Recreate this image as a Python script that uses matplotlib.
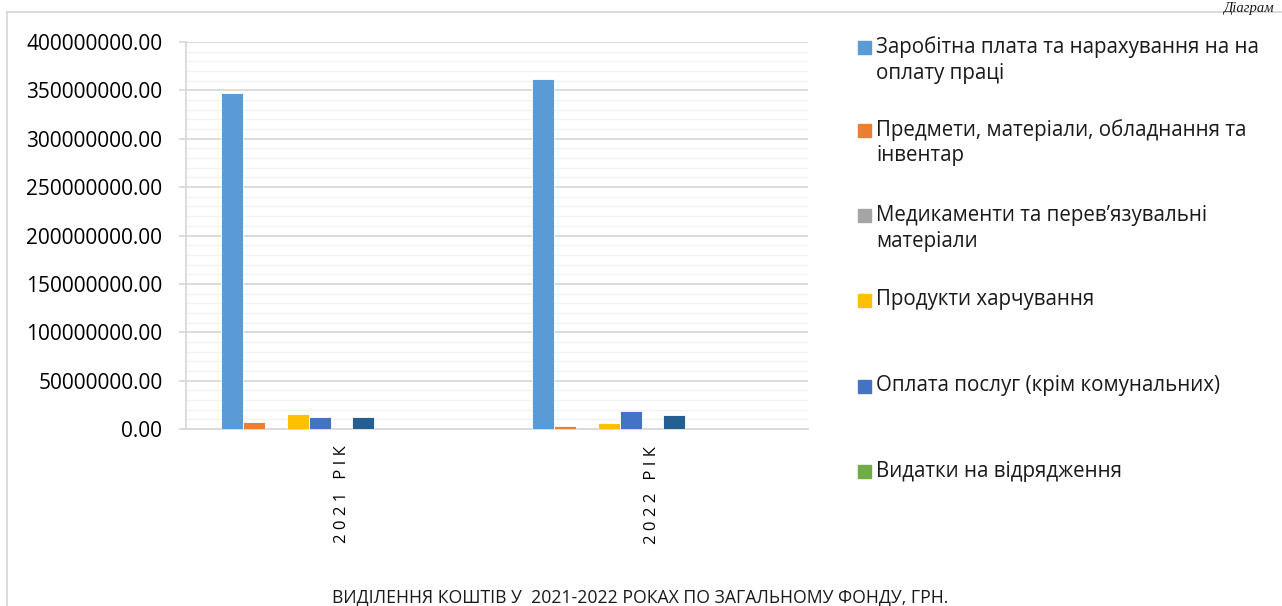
import matplotlib
matplotlib.use('Agg')
import matplotlib.pyplot as plt
from matplotlib.patches import Rectangle
from matplotlib.lines import Line2D
import numpy as np

plt.rcParams['font.family'] = ['Open Sans', 'DejaVu Sans']

# дані діаграми
years = ['2 0 2 1   Р І К', '2 0 2 2   Р І К']
salary = [347.4e6, 361.7e6]
materials = [7.5e6, 2.9e6]
medicine = [0, 0]
food = [15.7e6, 6.7e6]
services = [12.2e6, 18.4e6]
travel = [0, 0]
series_7 = [12.2e6, 14.0e6]
series_8 = [0, 0]
series_9 = [0, 0]
series_10 = [0, 0]
series_11 = [0, 0]

series = [salary, materials, medicine, food, services, travel,
          series_7, series_8, series_9, series_10, series_11]
colors = ['#5B9BD5', '#ED7D31', '#A5A5A5', '#FFC000', '#4472C4', '#70AD47',
          '#255E91', '#9E480E', '#636363', '#997300', '#264478']
legend_names = ['Заробітна плата та нарахування на на\nоплату праці',
                'Предмети, матеріали, обладнання та\nінвентар',
                'Медикаменти та перев’язувальні\nматеріали',
                'Продукти харчування',
                'Оплата послуг (крім комунальних)',
                'Видатки на відрядження']
title = 'ВИДІЛЕННЯ КОШТІВ У  2021-2022 РОКАХ ПО ЗАГАЛЬНОМУ ФОНДУ, ГРН.'

W, H = 1282, 606
fig = plt.figure(figsize=(W / 100, H / 100), dpi=100)
ax = fig.add_axes([186 / W, 1 - 429 / H, (808 - 186) / W, (429 - 42) / H])

x = np.arange(len(years))
bw = 0.0707
for i, vals in enumerate(series):
    ax.bar(x + (i - 5) * bw, vals, width=bw, color=colors[i],
           edgecolor='white', linewidth=0.6, zorder=3)

ax.set_xlim(-0.5, 1.5)
ax.set_ylim(0, 400e6)
ax.set_yticks(np.arange(0, 400e6 + 1, 50e6))
ax.set_yticks(np.arange(0, 400e6 + 1, 10e6), minor=True)
ax.set_yticklabels(['%.2f' % v for v in np.arange(0, 400e6 + 1, 50e6)], fontsize=15)
ax.grid(axis='y', which='major', color='#d9d9d9', linewidth=1.3, zorder=1)
ax.grid(axis='y', which='minor', color='#f2f2f2', linewidth=1.0, zorder=0)
ax.tick_params(axis='y', which='major', length=5, color='#d9d9d9', width=1.3, pad=12)
ax.tick_params(axis='y', which='minor', length=0)

ax.set_xticks(x)
ax.set_xticklabels(years, rotation=90, fontsize=12, va='top', ha='center')
ax.tick_params(axis='x', length=0, pad=12)

for s in ['top', 'right']:
    ax.spines[s].set_visible(False)
for s in ['left', 'bottom']:
    ax.spines[s].set_color('#d9d9d9')
    ax.spines[s].set_linewidth(1.3)

# легенда вручну (як у Excel)
y_first = [47, 130, 215, 300, 386, 471]
for i, name in enumerate(legend_names):
    fig.patches.append(Rectangle((858 / W, 1 - (y_first[i] + 6.5) / H), 13 / W, 13 / H,
                                 transform=fig.transFigure, color=colors[i]))
    for k, line in enumerate(name.split('\n')):
        fig.text(876 / W, 1 - (y_first[i] + k * 26) / H, line,
                 fontsize=14.8, va='center', ha='left', color='#1a1a1a')

fig.text(640 / W, 1 - 597 / H, title, fontsize=12.7, ha='center', va='center', color='#1a1a1a')

# рамка діаграми
fig.lines.append(Line2D([7 / W, 1], [1 - 12 / H, 1 - 12 / H], transform=fig.transFigure,
                        color='#d9d9d9', linewidth=1.3))
fig.lines.append(Line2D([7 / W, 7 / W], [0, 1 - 12 / H], transform=fig.transFigure,
                        color='#d9d9d9', linewidth=1.3))

fig.text(1274 / W, 1 - 12 / H, 'Діаграм', family='Liberation Serif', style='italic',
         fontsize=10.5, ha='right', va='baseline', color='#1a1a1a')

fig.savefig('out.png', dpi=100)
